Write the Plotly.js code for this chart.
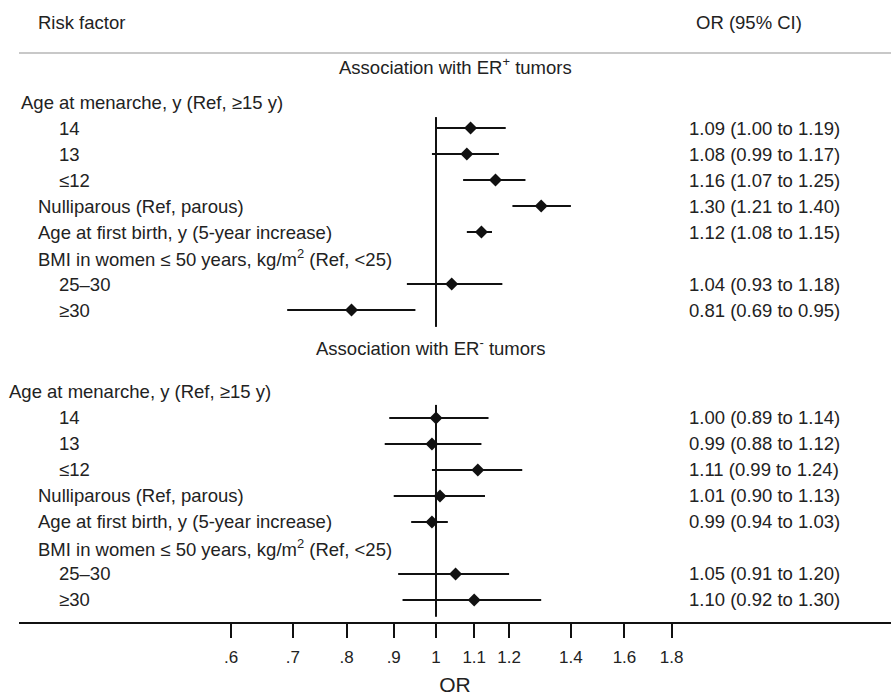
<!DOCTYPE html>
<html><head><meta charset="utf-8">
<script src="https://cdn.plot.ly/plotly-3.0.1.min.js"></script>
<style>html,body{margin:0;padding:0;background:#fff}</style>
</head><body><div id="chart" style="width:891px;height:696px"></div>
<script>
// ---- data ----
const rowLabels = ["14", "13", "≤12", "Nulliparous (Ref, parous)", "Age at first birth, y (5-year increase)", "25–30", "≥30"];
const orPos = [1.09, 1.08, 1.16, 1.30, 1.12, 1.04, 0.81];
const loPos = [1.00, 0.99, 1.07, 1.21, 1.08, 0.93, 0.69];
const hiPos = [1.19, 1.17, 1.25, 1.40, 1.15, 1.18, 0.95];
const orNeg = [1.00, 0.99, 1.11, 1.01, 0.99, 1.05, 1.10];
const loNeg = [0.89, 0.88, 0.99, 0.90, 0.94, 0.91, 0.92];
const hiNeg = [1.14, 1.12, 1.24, 1.13, 1.03, 1.20, 1.30];
const tickVals = [0.6, 0.7, 0.8, 0.9, 1, 1.1, 1.2, 1.4, 1.6, 1.8];
const tickText = [".6", ".7", ".8", ".9", "1", "1.1", "1.2", "1.4", "1.6", "1.8"];
const sectionTitles = ["Association with ER<sup>+</sup> tumors", "Association with ER<sup>-</sup> tumors"];
const groupHeaders = ["Age at menarche, y (Ref, ≥15 y)", "BMI in women ≤ 50 years, kg/m<sup>2</sup> (Ref, &lt;25)"];
const colHeaders = ["Risk factor", "OR (95% CI)"];
const axisTitle = "OR";

// ---- layout helpers ----
const FONT = "Liberation Sans, Arial, sans-serif";
const TXT = "#222";
const PL = 19, PW = 872;
const px = v => (v - PL) / PW;
const slots = [1, 2, 3, 4, 5, 7, 8];
const indent = [57, 57, 57, 36, 36, 57, 57];
const offsets = [0, 11.15];
const headerX = [19, 7];
const sections = [
  {or: orPos, lo: loPos, hi: hiPos, titleY: -1.385, titleX: 455},
  {or: orNeg, lo: loNeg, hi: hiNeg, titleY: 9.42, titleX: 430}
];

const traces = [];
const annotations = [];
const fmt = v => v.toFixed(2);

sections.forEach((s, si) => {
  const off = offsets[si];
  const ys = slots.map(k => k + off);
  traces.push({
    type: "scatter", mode: "markers", x: s.or, y: ys,
    marker: {symbol: "diamond", size: 10, color: "#111"},
    error_x: {type: "data", symmetric: false,
      array: s.hi.map((h, i) => h - s.or[i]),
      arrayminus: s.lo.map((l, i) => s.or[i] - l),
      width: 0, thickness: 2, color: "#111"},
    hoverinfo: "skip", showlegend: false, cliponaxis: false
  });
  // reference line at OR = 1
  traces.push({
    type: "scatter", mode: "lines", x: [1, 1],
    y: si === 0 ? [0.58, 8.65] : [11.65, 19.8],
    line: {color: "#111", width: 2}, hoverinfo: "skip", showlegend: false
  });
  annotations.push({xref: "paper", yref: "y", x: px(s.titleX), y: s.titleY,
    text: sectionTitles[si], xanchor: "center", yanchor: "middle", showarrow: false,
    font: {family: FONT, size: 18.5, color: TXT}});
  annotations.push({xref: "paper", yref: "y", x: px(headerX[si]), y: off,
    text: groupHeaders[0], xanchor: "left", yanchor: "middle", showarrow: false,
    font: {family: FONT, size: 18.5, color: TXT}});
  annotations.push({xref: "paper", yref: "y", x: px(36), y: 6 + off,
    text: groupHeaders[1], xanchor: "left", yanchor: "middle", showarrow: false,
    font: {family: FONT, size: 18.5, color: TXT}});
  rowLabels.forEach((lab, i) => {
    annotations.push({xref: "paper", yref: "y", x: px(indent[i]), y: ys[i],
      text: lab, xanchor: "left", yanchor: "middle", showarrow: false,
      font: {family: FONT, size: 18.5, color: TXT}});
    annotations.push({xref: "paper", yref: "y", x: px(687), y: ys[i],
      text: fmt(s.or[i]) + " (" + fmt(s.lo[i]) + " to " + fmt(s.hi[i]) + ")",
      xanchor: "left", yanchor: "middle", showarrow: false,
      font: {family: FONT, size: 18.5, color: TXT}});
  });
});

annotations.push({xref: "paper", yref: "y", x: px(36), y: -3.04, text: colHeaders[0],
  xanchor: "left", yanchor: "middle", showarrow: false, font: {family: FONT, size: 18.5, color: TXT}});
annotations.push({xref: "paper", yref: "y", x: px(694), y: -3.04, text: colHeaders[1],
  xanchor: "left", yanchor: "middle", showarrow: false, font: {family: FONT, size: 18.5, color: TXT}});

const layout = {
  width: 891, height: 696,
  margin: {l: PL, r: 0, t: 0, b: 74, pad: 0},
  paper_bgcolor: "#fff", plot_bgcolor: "#fff",
  showlegend: false,
  font: {family: FONT, color: TXT},
  xaxis: {
    type: "log", range: [-0.4516, 0.4928],
    tickvals: tickVals, ticktext: tickText,
    ticks: "outside", ticklen: 14, tickwidth: 2, tickcolor: "#111",
    showline: true, linewidth: 2, linecolor: "#111",
    showgrid: false, zeroline: false, automargin: false,
    tickfont: {family: FONT, size: 17, color: TXT},
    ticklabelstandoff: 5,
    title: {text: axisTitle, font: {family: FONT, size: 21, color: TXT}, standoff: 12},
    fixedrange: true
  },
  yaxis: {range: [20, -3.923], visible: false, showgrid: false, zeroline: false, fixedrange: true},
  shapes: [{type: "line", xref: "paper", yref: "y", x0: 0, x1: 1, y0: -1.885, y1: -1.885,
    line: {color: "#c8c8c8", width: 2}}],
  annotations: annotations
};

Plotly.newPlot("chart", traces, layout, {displayModeBar: false, staticPlot: true});
</script>
</body></html>
